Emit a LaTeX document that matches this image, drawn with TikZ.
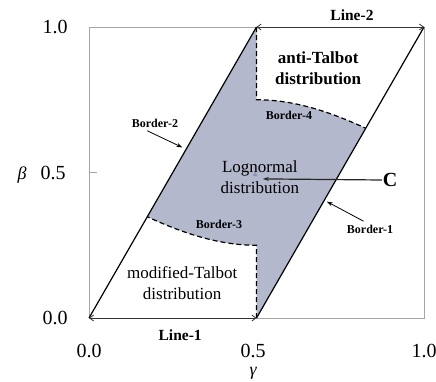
\documentclass[tikz,border=0pt]{standalone}
\usepackage{fontspec}
\setmainfont{Liberation Serif}
\usetikzlibrary{arrows.meta,positioning,calc,shapes.geometric}
\definecolor{logfill}{RGB}{180,184,204}
\definecolor{framegray}{RGB}{165,165,165}
\definecolor{cpointfill}{RGB}{140,150,190}

\begin{document}
\begin{tikzpicture}[
  x=335pt,y=291pt,
  tick/.style={font=\fontsize{20}{24}\selectfont,inner sep=0.5pt},
  axlabel/.style={font=\fontsize{18}{22}\selectfont\itshape,inner sep=0.5pt},
  region/.style={align=center,font=\fontsize{17}{21}\selectfont},
  bregion/.style={align=center,font=\fontsize{17}{21}\selectfont\bfseries},
  blabel/.style={font=\fontsize{12}{14}\selectfont\bfseries},
  llabel/.style={font=\fontsize{15.5}{18}\selectfont\bfseries},
  border/.style={line width=1.2pt,line join=round},
  split/.style={line width=1.2pt,dash pattern=on 5pt off 3pt},
  pointer/.style={-{Stealth[length=6pt,width=4pt]},line width=0.8pt},
  span/.style={{Straight Barb[length=4pt,width=6pt]}-{Straight Barb[length=4pt,width=6pt]},line width=0.8pt,black!80},
  cpoint/.style={regular polygon,regular polygon sides=3,fill=cpointfill,minimum size=6pt,inner sep=0pt}
]
\useasboundingbox (-0.2657,-0.2165) rectangle (1.0358,1.0928);

% corners and split points
\coordinate (o) at (0,0);
\coordinate (m0) at (0.5,0);
\coordinate (m1) at (0.5,1);
\coordinate (e1) at (1,1);
\coordinate (b3s) at (0.174,0.348);
\coordinate (b3e) at (0.5,0.25);
\coordinate (b4s) at (0.5,0.75);
\coordinate (b4e) at (0.826,0.652);

% lognormal region
\fill[logfill] (b3s) -- (m1) -- (b4s) .. controls (0.61,0.75) and (0.715,0.711) .. (b4e)
  -- (m0) -- (b3e) .. controls (0.39,0.25) and (0.285,0.289) .. (b3s) -- cycle;

% frame
\draw[framegray,line width=0.6pt] (0,0) rectangle (1,1);
\draw[framegray,line width=0.6pt] (0,0.5) -- (0.024,0.5);

\draw[border] (o) -- (m1);
\draw[border] (m0) -- (e1);
\draw[split] (m0) -- (b3e) .. controls (0.39,0.25) and (0.285,0.289) .. (b3s);
\draw[split] (m1) -- (b4s) .. controls (0.61,0.75) and (0.715,0.711) .. (b4e);

\draw[span] (o) -- (m0);
\draw[span] (m1) -- (e1);

% axes
\node[tick] (y1) at (-0.101,1) {1.0};
\node[tick] (y05) at (-0.107,0.5) {0.5};
\node[tick] (y0) at (-0.101,0) {0.0};
\node[tick] (x0) at (0,-0.113) {0.0};
\node[tick] (x05) at (0.49,-0.113) {0.5};
\node[tick] (x1) at (1.0,-0.113) {1.0};
\node[axlabel] (gam) at (0.49,-0.19) {γ};
\node[axlabel] (bet) at (-0.2,0.49) {β};

% labels
\node[bregion] (anti) at (0.684,0.859) {anti-Talbot\\distribution};
\node[blabel] (b4) at (0.597,0.695) {Border-4};
\node[region] (logn) at (0.51,0.485) {Lognormal\\distribution};
\node[cpoint] (cp) at (0.496,0.493) {};
\node[blabel] (b3) at (0.388,0.32) {Border-3};
\node[region] (mod) at (0.278,0.12) {modified-Talbot\\distribution};
\node[llabel] (l1) at (0.272,-0.058) {Line-1};
\node[llabel] (l2) at (0.785,1.041) {Line-2};

\node[font=\fontsize{20}{24}\selectfont\bfseries,inner sep=1pt] (c) at (0.899,0.474) {C};
\coordinate (ctip) at (0.519,0.478);
\draw[pointer,line width=1.2pt,black!85] (c) -- (ctip);

\node[blabel] (b2) at (0.197,0.670) {Border-2};
\coordinate (b2tip) at (0.279,0.586);
\draw[pointer] (b2.225) -- (b2tip);

\node[blabel] (b1) at (0.839,0.306) {Border-1};
\coordinate (b1tip) at (0.71,0.40);
\draw[pointer] (b1.130) -- (b1tip);
\end{tikzpicture}
\end{document}
